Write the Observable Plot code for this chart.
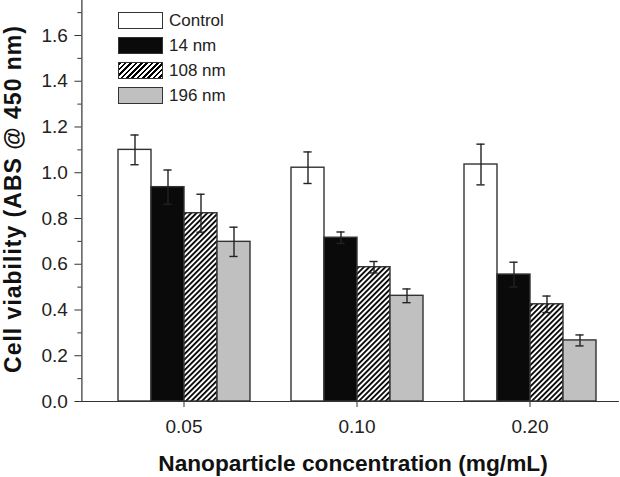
<!DOCTYPE html>
<html>
<head>
<meta charset="utf-8">
<script src="https://cdn.jsdelivr.net/npm/d3@7"></script>
<script src="https://cdn.jsdelivr.net/npm/@observablehq/plot@0.6"></script>
<style>
  html, body { margin: 0; padding: 0; background: #fff; }
  #wrap { position: relative; width: 620px; height: 477px; font-family: "Liberation Sans", Arial, sans-serif; color: #222; }
  #legend { position: absolute; left: 118px; top: 7.5px; }
  .row { display: flex; align-items: center; height: 25px; }
  .sw { width: 43px; height: 15px; border: 1.5px solid #333; box-sizing: content-box; margin-right: 6px; }
  .lab { font-size: 17px; line-height: 17px; color: #222; }
</style>
</head>
<body>
<div id="wrap"><div id="legend"></div></div>
<script>
// ---- data ----
const concentrations = ["0.05", "0.10", "0.20"];
const seriesNames = ["Control", "14 nm", "108 nm", "196 nm"];
const controlValues = [1.100, 1.022, 1.036];
const controlErrors = [0.065, 0.069, 0.089];
const nm14Values = [0.937, 0.716, 0.555];
const nm14Errors = [0.075, 0.025, 0.054];
const nm108Values = [0.823, 0.587, 0.425];
const nm108Errors = [0.083, 0.025, 0.036];
const nm196Values = [0.698, 0.462, 0.267];
const nm196Errors = [0.064, 0.030, 0.024];
const yMajorTicks = [0, 0.2, 0.4, 0.6, 0.8, 1.0, 1.2, 1.4, 1.6];
const yMinorTicks = [0.1, 0.3, 0.5, 0.7, 0.9, 1.1, 1.3, 1.5, 1.7];
const xTitle = "Nanoparticle concentration (mg/mL)";
const yTitle = "Cell viability (ABS @ 450 nm)";

const valueSets = [controlValues, nm14Values, nm108Values, nm196Values];
const errorSets = [controlErrors, nm14Errors, nm108Errors, nm196Errors];
const rows = concentrations.flatMap((c, ci) => seriesNames.map((s, si) => ({
  conc: c, series: s, value: valueSets[si][ci], err: errorSets[si][ci]
})));

const fills = ["#ffffff", "#0a0a0a", "url(#hatch)", "#c0c0c0"];
const W = 620, H = 477, ML = 81, MB = 76;
const fxLeft = 96.6, fxRight = 617.1;
const shift = ML - fxLeft;
const axisColor = "#333";

const chart = Plot.plot({
  width: W, height: H,
  marginLeft: ML, marginRight: 0, marginTop: 0, marginBottom: MB,
  style: {fontFamily: '"Liberation Sans", Arial, sans-serif', fontSize: "19px", color: "#222", background: "transparent", overflow: "visible"},
  fx: {domain: concentrations, range: [fxLeft, fxRight], paddingInner: 0, paddingOuter: 0, axis: null, label: null},
  x: {domain: seriesNames, paddingInner: 0, paddingOuter: 0.57, align: 0.5, axis: null},
  y: {domain: [0, 1.753], axis: null},
  color: {type: "ordinal", domain: seriesNames, range: fills},
  marks: [
    Plot.barY(rows, {fx: "conc", x: "series", y: "value", fill: "series", stroke: "#333", strokeWidth: 1.4}),
    Plot.ruleX(rows, {fx: "conc", x: "series", y1: d => d.value - d.err, y2: d => d.value + d.err, stroke: "#222", strokeWidth: 1.4}),
    Plot.tickY(rows, {fx: "conc", x: "series", y: d => d.value + d.err, stroke: "#222", strokeWidth: 1.4, insetLeft: 12.4, insetRight: 12.4}),
    Plot.tickY(rows, {fx: "conc", x: "series", y: d => d.value - d.err, stroke: "#222", strokeWidth: 1.4, insetLeft: 12.4, insetRight: 12.4}),
    // x axis line (extended to the y axis on the left and to the edge on the right)
    Plot.ruleY([0], {stroke: axisColor, strokeWidth: 1.2}),
    Plot.ruleY([0], {stroke: axisColor, strokeWidth: 1.2, facetAnchor: "left", insetLeft: shift}),
    Plot.ruleY([0], {stroke: axisColor, strokeWidth: 1.2, facetAnchor: "right", insetRight: fxRight - W}),
    // y axis line + ticks
    Plot.frame({anchor: "left", facetAnchor: "left", dx: shift, stroke: axisColor, strokeWidth: 1.2}),
    Plot.axisY({ticks: yMinorTicks, tickSize: 4, tickFormat: () => "", label: null, dx: shift, stroke: axisColor}),
    Plot.axisY({ticks: yMajorTicks, tickSize: 7, tickPadding: 7, tickFormat: d3.format(".1f"), label: null, dx: shift, stroke: axisColor, fill: "#222"}),
    Plot.axisFx({anchor: "bottom", tickSize: 6, tickPadding: 12, label: null, stroke: axisColor, fill: "#222"}),
    // axis titles
    Plot.text([xTitle], {fx: () => concentrations[1], frameAnchor: "bottom", lineAnchor: "middle", textAnchor: "middle", dy: 62, dx: -4, fontSize: 22.7, fontWeight: "bold", fill: "#111"}),
    Plot.text([yTitle], {fx: () => concentrations[0], frameAnchor: "left", rotate: -90, textAnchor: "middle", lineAnchor: "middle", dx: 12.5 - fxLeft, dy: -2, fontSize: 23, fontWeight: "bold", fill: "#111"})
  ]
});

// hatch pattern for 108 nm bars
const ns = "http://www.w3.org/2000/svg";
const svgEl = chart.tagName.toLowerCase() === "svg" ? chart : chart.querySelector("svg");
const defs = document.createElementNS(ns, "defs");
defs.innerHTML = '<pattern id="hatch" patternUnits="userSpaceOnUse" width="3.8" height="3.8" patternTransform="rotate(45)">' +
  '<rect width="3.8" height="3.8" fill="#fff"/><rect width="1.8" height="3.8" fill="#000"/></pattern>';
svgEl.insertBefore(defs, svgEl.firstChild);
d3.select(svgEl).selectAll("text").filter(function () { return this.textContent === yTitle; }).style("letter-spacing", "1px");

document.getElementById("wrap").insertBefore(chart, document.getElementById("legend"));

// legend
const legend = d3.select("#legend");
const cssFills = ["#ffffff", "#0a0a0a", "repeating-linear-gradient(135deg, #000 0 1.8px, #fff 1.8px 3.8px)", "#c0c0c0"];
seriesNames.forEach((s, i) => {
  const r = legend.append("div").attr("class", "row");
  r.append("div").attr("class", "sw").style("background", cssFills[i]);
  r.append("div").attr("class", "lab").text(s);
});
</script>
</body>
</html>
